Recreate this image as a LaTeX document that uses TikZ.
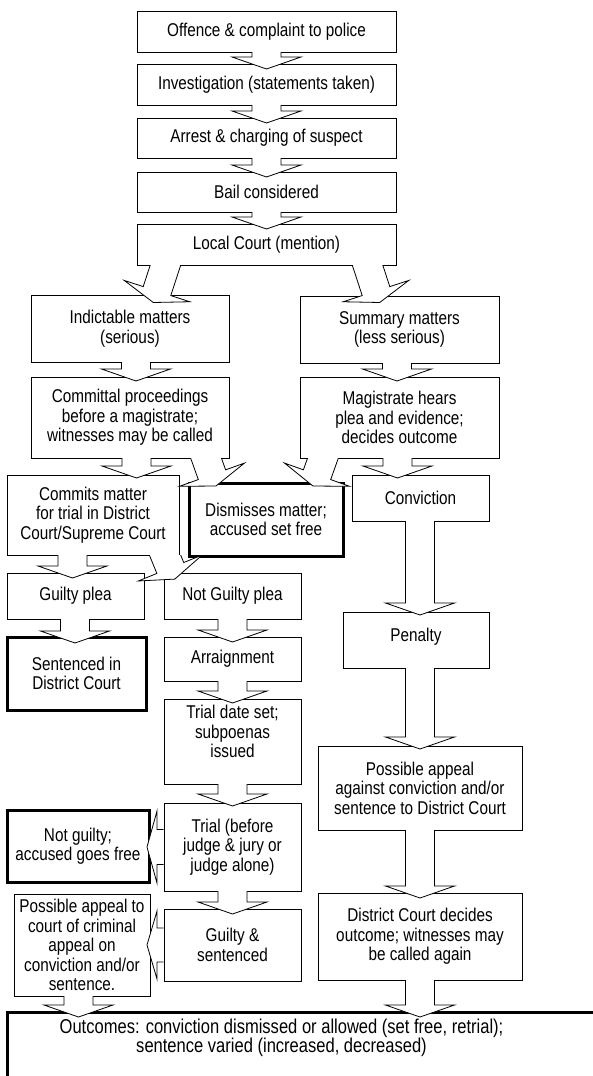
\documentclass[tikz,border=0pt]{standalone}
\usepackage{fontspec}
\setmainfont{Liberation Sans}
\newfontfamily\boxfam{Liberation Sans}[FakeStretch=0.827]
\usetikzlibrary{calc}
\newcommand\boxfont{\boxfam\fontsize{18.5}{19.5}\selectfont}
\newcommand\outfont{\boxfam\fontsize{20}{19.2}\selectfont}
\tikzset{
  box/.style={draw, line width=0.8pt, fill=white, inner sep=0pt, outer sep=0pt, align=center, font=\boxfont},
  thickbox/.style={box, line width=3pt},
  txt/.style={inner sep=0pt, outer sep=0pt, align=center, font=\boxfont},
  barrowst/.style={fill=white, draw=black, line width=0.8pt, line join=miter},
}
% block arrow leaving the bottom edge of node #1
\newcommand\downarrowblk[6]{%
  \begin{scope}
    \clip ($(#1.south)+(-400,0.4)$) rectangle ($(#1.south)+(400,250)$);
    \coordinate (aP) at #2;
    \coordinate (aT) at #3;
    \coordinate (aS) at ($(aP)!-10pt!(aT)$);
    \coordinate (aB) at ($(aT)!#6!(aP)$);
    \filldraw[barrowst] ($(aS)!#4!90:(aT)$) -- ($(aB)!#4!90:(aT)$) -- ($(aB)!#5!90:(aT)$) -- (aT) -- ($(aB)!#5!-90:(aT)$) -- ($(aB)!#4!-90:(aT)$) -- ($(aS)!#4!-90:(aT)$) -- cycle;
  \end{scope}}
% block arrow leaving the left edge of node #1
\newcommand\leftarrowblk[6]{%
  \begin{scope}
    \clip ($(#1.west)+(-0.4,-300)$) rectangle ($(#1.west)+(-300,300)$);
    \coordinate (aP) at #2;
    \coordinate (aT) at #3;
    \coordinate (aS) at ($(aP)!-10pt!(aT)$);
    \coordinate (aB) at ($(aT)!#6!(aP)$);
    \filldraw[barrowst] ($(aS)!#4!90:(aT)$) -- ($(aB)!#4!90:(aT)$) -- ($(aB)!#5!90:(aT)$) -- (aT) -- ($(aB)!#5!-90:(aT)$) -- ($(aB)!#4!-90:(aT)$) -- ($(aS)!#4!-90:(aT)$) -- cycle;
  \end{scope}}
\begin{document}
\begin{tikzpicture}[x=1pt,y=-1pt]
\useasboundingbox[fill=white] (0,0) rectangle (592,1076);
% boxes
\node[box, minimum width=259, minimum height=41] (off) at (266.5,31.5) {Offence \& complaint to police};
\node[box, minimum width=259, minimum height=41] (inv) at (266.5,84.5) {Investigation (statements taken)};
\node[box, minimum width=259, minimum height=40] (arr) at (266.5,138) {Arrest \& charging of suspect};
\node[box, minimum width=259, minimum height=40] (bail) at (266.5,192) {Bail considered};
\node[box, minimum width=259, minimum height=41] (lc) at (266.5,244.5) {Local Court (mention)};
\node[box, minimum width=198, minimum height=67] (ind) at (130,328.5) {Indictable matters\\(serious)};
\node[box, minimum width=199, minimum height=67] (sum) at (399.5,329.5) {Summary matters\\(less serious)};
\node[box, minimum width=198, minimum height=81] (com) at (130,417.5) {Committal proceedings\\before a magistrate;\\witnesses may be called};
\node[box, minimum width=199, minimum height=81] (mag) at (399.5,417.5) {Magistrate hears\\plea and evidence;\\decides outcome};
\node[box, minimum width=172, minimum height=80] (cmt) at (93,515) {Commits matter\\for trial in District\\Court/Supreme Court};
\node[thickbox, minimum width=154, minimum height=73] (dis) at (266,519.5) {Dismisses matter;\\accused set free};
\node[box, minimum width=137, minimum height=46] (conv) at (420.5,498) {Conviction};
\node[box, minimum width=137, minimum height=46] (gp) at (75.5,596) {Guilty plea};
\node[box, minimum width=137, minimum height=46] (ngp) at (232.5,596) {Not Guilty plea};
\node[thickbox, minimum width=139, minimum height=73] (sent) at (76.5,673.5) {Sentenced in\\District Court};
\node[box, minimum width=137, minimum height=44] (arg) at (232.5,659) {Arraignment};
\node[box, minimum width=137, minimum height=85] (tds) at (232.5,741.5) {};
\node[txt] (tdstxt) at (232.5,731.7) {Trial date set;\\subpoenas\\issued};
\node[box, minimum width=146, minimum height=56] (pen) at (416,640) {};
\node[txt] (pentxt) at (416,637) {Penalty};
\node[box, minimum width=204, minimum height=84] (pa) at (420,788) {Possible appeal\\against conviction and/or\\sentence to District Court};
\node[thickbox, minimum width=142, minimum height=72] (ng) at (78,846) {Not guilty;\\accused goes free};
\node[box, minimum width=137, minimum height=88] (trial) at (232.5,847) {Trial (before\\judge \& jury or\\judge alone)};
\node[box, minimum width=136, minimum height=102] (pac) at (82,945) {Possible appeal to\\court of criminal\\appeal on\\conviction and/or\\sentence.};
\node[box, minimum width=137, minimum height=72] (gs) at (232.5,945) {Guilty \&\\sentenced};
\node[box, minimum width=204, minimum height=87] (dcd) at (420,936.5) {District Court decides\\outcome; witnesses may\\be called again};
\node[thickbox, minimum width=593, minimum height=78] (out) at (303.5,1051) {};
\node[txt, font=\outfont] (outtxt) at (281.5,1037.5) {Outcomes: conviction dismissed or allowed (set free, retrial);\\sentence varied (increased, decreased)};
% block arrows
\downarrowblk{off}{(off.south)}{($(inv.north)+(0,5)$)}{14.5pt}{34.5pt}{12pt}
\downarrowblk{inv}{(inv.south)}{($(arr.north)+(0,5)$)}{14.5pt}{34.5pt}{12pt}
\downarrowblk{arr}{(arr.south)}{($(bail.north)+(0,5)$)}{14.5pt}{34.5pt}{12pt}
\downarrowblk{bail}{(bail.south)}{($(lc.north)+(0,5)$)}{14.5pt}{34.5pt}{12pt}
\downarrowblk{lc}{($(lc.south)+(-101,0)$)}{($(ind.north)+(23.3,7.5)$)}{14.5pt}{34.5pt}{12pt}
\downarrowblk{lc}{($(lc.south)+(101,0)$)}{($(sum.north)+(-19.8,6.5)$)}{14.5pt}{34.5pt}{12pt}
\downarrowblk{ind}{($(ind.south)+(6,0)$)}{($(com.north)+(6,4)$)}{14.5pt}{34.5pt}{12pt}
\downarrowblk{sum}{($(sum.south)+(-2.5,0)$)}{($(mag.north)+(-2.5,4)$)}{14.5pt}{34.5pt}{12pt}
\downarrowblk{com}{($(com.south)+(6.5,0)$)}{($(cmt.north)+(43.5,3)$)}{14.5pt}{34.5pt}{12pt}
\downarrowblk{com}{($(com.south)+(76,0)$)}{($(dis.north)+(-50,3)$)}{14.5pt}{34.5pt}{12pt}
\downarrowblk{mag}{($(mag.south)+(-76.5,0)$)}{($(dis.north)+(47,3)$)}{14.5pt}{34.5pt}{12pt}
\downarrowblk{mag}{($(mag.south)+(-2,0)$)}{($(conv.north)+(-23,3)$)}{14.5pt}{34.5pt}{12pt}
\downarrowblk{cmt}{($(cmt.south)+(-20.5,0)$)}{($(gp.north)+(-3,5)$)}{14.5pt}{34.5pt}{12pt}
\downarrowblk{cmt}{($(cmt.south)+(72,0)$)}{($(ngp.north)+(-57.7,6.1)$)}{14.5pt}{34.5pt}{12pt}
\downarrowblk{gp}{($(gp.south)+(-0.5,0)$)}{($(sent.north)+(-1.5,6)$)}{14.5pt}{34.5pt}{12pt}
\downarrowblk{ngp}{(ngp.south)}{($(arg.north)+(0,5)$)}{14.5pt}{34.5pt}{12pt}
\downarrowblk{arg}{(arg.south)}{($(tds.north)+(0,4)$)}{14.5pt}{34.5pt}{12pt}
\downarrowblk{tds}{(tds.south)}{($(trial.north)+(0,3)$)}{14.5pt}{34.5pt}{12pt}
\downarrowblk{trial}{(trial.south)}{($(gs.north)+(0,5)$)}{14.5pt}{34.5pt}{12pt}
\downarrowblk{conv}{($(conv.south)+(-0.5,0)$)}{($(pen.north)+(4,3)$)}{14.5pt}{34.5pt}{12pt}
\downarrowblk{pen}{($(pen.south)+(4,0)$)}{($(pa.north)+(0,3)$)}{14.5pt}{34.5pt}{12pt}
\downarrowblk{pa}{(pa.south)}{($(dcd.north)+(0,5)$)}{14.5pt}{34.5pt}{12pt}
\downarrowblk{dcd}{(dcd.south)}{($(out.north)+(116.5,5)$)}{14.5pt}{34.5pt}{12pt}
\downarrowblk{pac}{($(pac.south)+(-3.5,0)$)}{($(out.north)+(-225,5)$)}{14.5pt}{34.5pt}{12pt}
\leftarrowblk{trial}{(trial.west)}{($(ng.east)+(-2,1)$)}{17.5pt}{36pt}{10pt}
\leftarrowblk{gs}{(gs.west)}{($(pac.east)+(-3,0)$)}{17pt}{34pt}{10pt}
\end{tikzpicture}
\end{document}
